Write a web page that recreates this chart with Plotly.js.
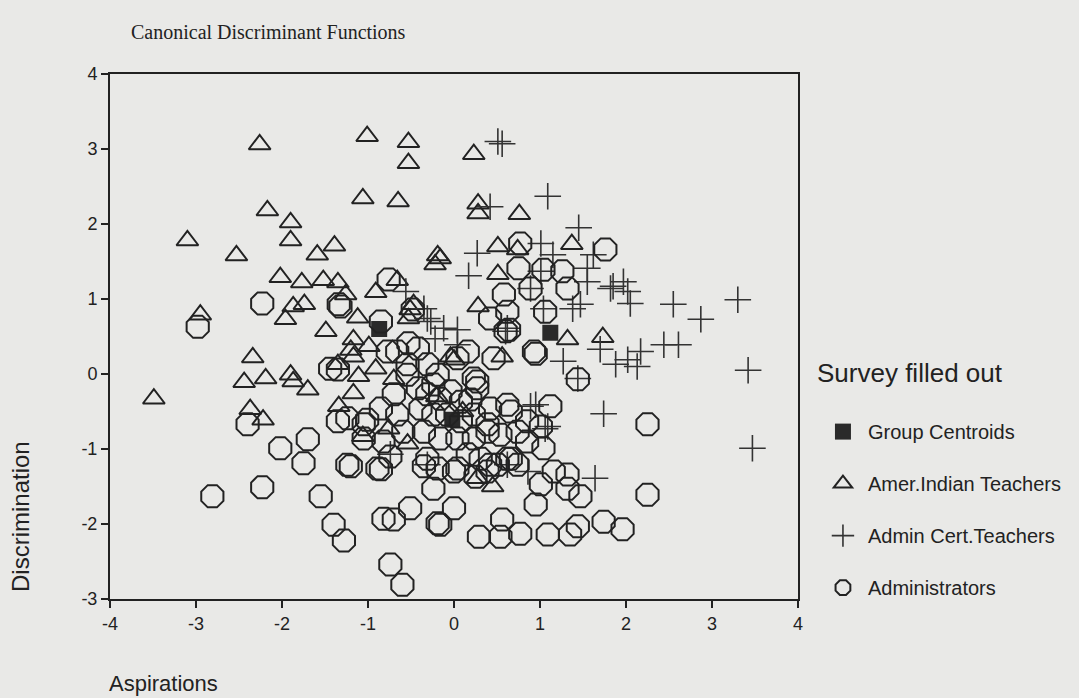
<!DOCTYPE html>
<html>
<head>
<meta charset="utf-8">
<script src="https://cdn.plot.ly/plotly-3.0.1.min.js"></script>
<style>html,body{margin:0;padding:0;background:#e9e9e7;}#chart{width:1079px;height:698px;}</style>
</head>
<body>
<div id="chart"></div>
<script>
// Group centroids
const centroidX = [-0.87, 1.12, -0.02];
const centroidY = [0.60, 0.55, -0.61];

// Amer.Indian Teachers
const indianX = [-2.26,-1.01,-0.53,-0.53,-1.06,-0.65,-2.17,-1.90,-1.90,-3.10,-2.53,-1.59,-1.39,-0.19,-0.22,-2.02,-1.77,-1.52,-1.35,-0.66,-0.91,-1.26,-1.87,-1.74,-0.47,-2.95,-1.96,-1.12,-0.53,-1.49,-1.17,0.23,0.28,0.28,0.76,0.51,0.74,1.37,-0.16,0.51,0.28,1.73,1.32,-0.04,0.56,-3.49,-2.34,-2.44,-2.19,-1.90,-1.87,-1.70,-2.37,-2.22,-0.99,-1.17,-1.35,-1.11,-0.91,-1.17,-1.34,-1.06,-0.70,-0.54,0.00,-0.51,0.45,0.27,-0.76,-1.20,-0.20,0.10];
const indianY = [3.06,3.17,3.09,2.81,2.34,2.30,2.18,2.02,1.78,1.78,1.58,1.59,1.71,1.58,1.46,1.29,1.22,1.25,1.22,1.25,1.09,1.06,0.90,0.93,0.93,0.79,0.73,0.75,0.74,0.57,0.46,2.93,2.27,2.14,2.13,1.70,1.66,1.73,1.54,1.33,0.90,0.49,0.46,0.23,0.23,-0.33,0.22,-0.11,-0.06,-0.01,-0.10,-0.21,-0.47,-0.61,0.37,0.23,0.13,-0.03,0.07,-0.26,-0.43,-0.83,-0.07,-0.93,0.19,0.86,-1.50,-1.39,-0.73,0.32,-0.30,-0.50];

// Admin Cert.Teachers
const adminCertX = [0.56,0.51,1.09,1.45,0.42,0.27,1.01,1.62,1.15,0.17,1.55,1.55,1.82,1.97,2.02,1.85,2.05,1.47,1.38,2.55,2.87,3.30,0.89,1.04,0.62,0.04,1.01,2.44,2.61,2.17,2.02,1.88,2.13,1.70,1.27,1.44,3.42,3.47,1.74,1.64,0.89,1.09,0.62,0.86,0.04,-0.22,-0.31,0.95,-0.74,-0.31,1.06,-0.56,-0.35,-0.27,-0.12,0.60];
const adminCertY = [3.07,3.10,2.37,1.95,2.23,1.61,1.74,1.59,1.59,1.31,1.41,1.23,1.14,1.23,1.10,1.17,0.94,0.93,0.87,0.93,0.73,0.99,1.14,0.87,0.61,0.59,1.37,0.39,0.39,0.30,0.19,0.13,0.10,0.33,0.17,-0.06,0.05,-0.99,-0.53,-1.39,-0.43,-0.70,-1.21,-1.30,0.39,0.47,0.74,-0.41,-1.07,-1.21,-0.73,1.10,0.87,0.70,0.61,0.57];

// Administrators
const adminX = [-0.54,-0.42,-0.31,-0.24,-0.16,-0.04,0.08,-0.39,-0.24,-0.08,0.08,0.23,0.23,0.27,0.19,0.42,0.62,0.66,-0.66,-0.85,-0.59,-0.35,-0.16,0.04,0.23,0.39,0.54,0.16,0.31,0.51,0.66,0.39,0.04,-0.19,-0.31,-0.82,-1.05,-1.24,-0.70,-0.54,-0.31,-0.19,-0.77,-0.42,0.16,0.85,0.74,-1.24,-0.89,0.85,
 -2.98,-2.23,-1.34,-0.76,-0.48,-0.85,-1.35,-2.40,-1.35,-2.02,-1.70,-1.75,-1.20,-0.85,-2.81,-2.23,-1.55,-1.40,-1.28,-0.82,-0.70,-0.51,-0.19,-0.24,-0.74,-0.60,-0.35,-1.01,-1.05,-0.74,-0.66,-0.53,-1.44,
 0.95,1.44,1.12,2.25,2.25,1.04,1.01,1.16,1.32,1.47,0.95,1.01,0.56,0.29,0.54,0.77,1.09,1.35,1.44,1.74,1.96,0.00,-0.16,0.62,0.42,0.00,0.25,0.74,
 0.77,1.76,0.75,1.04,1.26,0.89,1.32,0.58,0.62,1.06,0.42,0.64,-1.32,0.60,0.93,1.32,0.39,0.27,0.04,0.46];
const adminY = [-0.01,-0.19,-0.27,-0.14,-0.33,-0.23,-0.37,-0.46,-0.54,-0.54,-0.63,-0.54,-0.06,-0.19,-0.34,-0.46,-0.41,-0.50,-0.54,-0.46,-0.77,-0.77,-0.86,-0.86,-0.86,-0.77,-0.81,-1.07,-1.13,-1.21,-1.13,-1.30,-1.26,-1.26,-1.13,-0.90,-0.67,-0.59,-0.27,0.13,0.13,-0.01,0.30,0.34,0.30,-0.90,-1.21,-1.21,-1.26,-0.63,
 0.63,0.94,0.93,1.26,0.86,0.70,0.06,-0.67,-0.63,-0.99,-0.87,-1.19,-1.23,-1.27,-1.63,-1.51,-1.63,-2.01,-2.22,-1.93,-1.94,-1.79,-1.99,-1.53,-2.54,-2.81,-1.23,-0.61,-0.86,-1.10,0.30,0.41,0.07,
 0.27,-0.07,-0.43,-0.67,-1.61,-0.99,-0.70,-1.30,-1.53,-1.63,-1.74,-1.47,-1.94,-2.17,-2.17,-2.13,-2.14,-2.14,-2.03,-1.97,-2.07,-1.79,-2.01,-1.13,-1.21,-1.30,-1.37,-0.77,
 1.74,1.66,1.41,1.39,1.37,1.14,1.14,1.06,0.83,0.83,0.74,0.59,0.90,0.57,0.30,-1.34,-0.67,-0.10,0.21,0.21];

const xTicks = [-4,-3,-2,-1,0,1,2,3,4];
const yTicks = [-3,-2,-1,0,1,2,3,4];

const ink = '#222222';
const sans = 'Liberation Sans, Arial, sans-serif';

const traces = [
  {x: centroidX, y: centroidY, name: 'Group Centroids', type: 'scatter', mode: 'markers', legendgroup: 'g1',
   marker: {symbol: 'square', size: 16, color: '#2a2a2a', line: {width: 0}}},
  {x: indianX, y: indianY, name: 'Amer.Indian Teachers', type: 'scatter', mode: 'markers', legendgroup: 'g2',
   marker: {symbol: 'triangle-up-open', size: 19, color: ink, line: {width: 2, color: ink}}},
  {x: adminCertX, y: adminCertY, name: 'Admin Cert.Teachers', type: 'scatter', mode: 'markers', legendgroup: 'g3',
   marker: {symbol: 'cross-thin-open', size: 19, color: '#333333', line: {width: 1.6, color: '#333333'}}},
  {x: adminX, y: adminY, name: 'Administrators', type: 'scatter', mode: 'markers', legendgroup: 'g4',
   marker: {symbol: 'octagon-open', size: 24, color: ink, line: {width: 2, color: ink}}}
];

const layout = {
  width: 1079, height: 698,
  paper_bgcolor: '#e9e9e7', plot_bgcolor: '#e9e9e7',
  margin: {l: 110, r: 281, t: 74, b: 99},
  font: {family: sans, color: ink, size: 18},
  title: {text: 'Canonical Discriminant Functions', font: {family: 'Liberation Serif, Times New Roman, serif', size: 20, color: ink},
          x: 131/1079, xanchor: 'left', xref: 'container', y: 1 - 32/698, yanchor: 'middle', yref: 'container'},
  xaxis: {range: [-4, 4], tickvals: xTicks, ticktext: xTicks.map(String), showgrid: false, zeroline: false,
          showline: true, mirror: true, linecolor: ink, linewidth: 2, ticks: 'outside', ticklen: 7, tickwidth: 2, tickcolor: ink,
          tickfont: {size: 18, family: sans, color: ink}},
  yaxis: {range: [-3, 4], tickvals: yTicks, ticktext: yTicks.map(String), showgrid: false, zeroline: false,
          showline: true, mirror: true, linecolor: ink, linewidth: 2, ticks: 'outside', ticklen: 7, tickwidth: 2, tickcolor: ink,
          tickfont: {size: 18, family: sans, color: ink}},
  showlegend: true,
  legend: {x: 1.029, xanchor: 'left', y: 0.356, yanchor: 'top', bgcolor: 'rgba(0,0,0,0)', itemwidth: 40,
           font: {size: 20, family: sans, color: ink}, traceorder: 'grouped', tracegroupgap: 23},
  annotations: [
    {text: 'Survey filled out', xref: 'paper', yref: 'paper', x: (815 - 110) / 688, y: (599 - 373) / 525,
     showarrow: false, font: {size: 26, family: sans, color: ink}, xanchor: 'left', yanchor: 'middle'},
    {text: 'Discrimination', xref: 'paper', yref: 'paper', x: (20 - 110) / 688, y: (599 - 517) / 525, textangle: -90,
     showarrow: false, font: {size: 24, family: sans, color: ink}, xanchor: 'center', yanchor: 'middle'},
    {text: 'Aspirations', xref: 'paper', yref: 'paper', x: (107 - 110) / 688, y: -(683 - 599) / 525,
     showarrow: false, font: {size: 22, family: sans, color: ink}, xanchor: 'left', yanchor: 'middle'}
  ]
};

Plotly.newPlot('chart', traces, layout, {displayModeBar: false, staticPlot: true});
</script>
</body>
</html>
